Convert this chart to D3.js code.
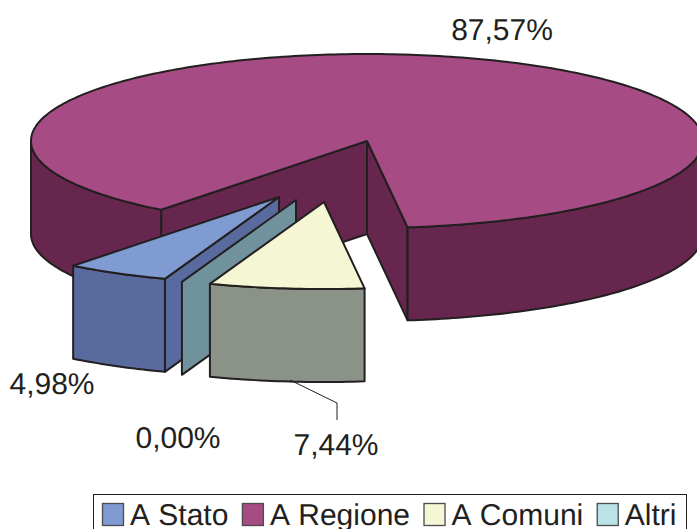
<!DOCTYPE html>
<html>
<head>
<meta charset="utf-8">
<script src="https://cdn.jsdelivr.net/npm/d3@7"></script>
<style>
html,body{margin:0;padding:0;background:#fff;overflow:hidden}
text{font-family:"Liberation Sans",Arial,sans-serif;fill:#231f20;font-size:30px;text-rendering:geometricPrecision;font-kerning:none}
</style>
</head>
<body>
<svg id="c" width="697" height="529"></svg>
<script>
const categories = ["A Stato", "A Regione", "A Comuni", "Altri"];
const values = [4.98, 87.57, 7.44, 0.0];
const valueLabels = ["4,98%", "87,57%", "7,44%", "0,00%"];
const topColors = ["#7f9bd1", "#a64b84", "#f5f6d3", "#bbe3e6"];
const sideColors = ["#596a9e", "#66264e", "#8b9389", "#6f929c"];
const explodeX = [-88, 0, -43, -71];
const explodeY = [56, 0, 61, 59];
const labelX = [52, 502, 336, 178];
const labelY = [394, 40, 455, 448];

const cx = 367, cy = 141, rx = 336, ry = 87, depth = 93;
const ink = "#231f20", sw = 2;
const svg = d3.select("#c");
const rad = d => d * Math.PI / 180;

const arcs = d3.pie().sort(null).value(d => d)
  .startAngle(rad(199.85)).endAngle(rad(199.85) + 2 * Math.PI)(values);

const px = d3.scaleLinear().domain([-1, 1]).range([cx - rx, cx + rx]);
const py = d3.scaleLinear().domain([-1, 1]).range([cy - ry, cy + ry]);
const pt = (a, off, dz) => [px(Math.sin(a)) + off[0], py(-Math.cos(a)) + off[1] + dz];
const apex = (off, dz) => [cx + off[0], cy + off[1] + dz];
const line = d3.line();
const sample = (a0, a1) => {
  const n = Math.max(2, Math.ceil(Math.abs(a1 - a0) / rad(1)));
  return d3.range(n + 1).map(i => a0 + (a1 - a0) * i / n);
};
const poly = (pts, fill) => svg.append("path")
  .attr("d", line(pts) + "Z").attr("fill", fill).attr("stroke", ink)
  .attr("stroke-width", sw).attr("stroke-linejoin", "round");

function outer(a0, a1, off, fill) {
  const s = sample(a0, a1);
  const topEdge = s.map(a => pt(a, off, 0));
  const botEdge = s.slice().reverse().map(a => pt(a, off, depth));
  poly(topEdge.concat(botEdge), fill);
}
function cutFace(a, off, fill) {
  poly([apex(off, 0), pt(a, off, 0), pt(a, off, depth), apex(off, depth)], fill);
}
function topFace(a0, a1, off, fill) {
  poly([apex(off, 0)].concat(sample(a0, a1).map(a => pt(a, off, 0))), fill);
}
const offset = i => [explodeX[i], explodeY[i]];

// main slice (A Regione)
{
  const i = 1, d = arcs[i], o = offset(i);
  const a0 = d.startAngle, a1 = d.endAngle;
  cutFace(a1, o, sideColors[i]);
  cutFace(a0, o, sideColors[i]);
  outer(a0, rad(270), o, sideColors[i]);
  outer(rad(450), a1, o, sideColors[i]);
  topFace(a0, a1, o, topColors[i]);
}
// A Stato
{
  const i = 0, d = arcs[i], o = offset(i);
  cutFace(d.startAngle, o, sideColors[i]);
  outer(d.startAngle, d.endAngle, o, sideColors[i]);
  topFace(d.startAngle, d.endAngle, o, topColors[i]);
}
// Altri: zero-width slice
{
  const i = 3, d = arcs[i], o = offset(i);
  cutFace(d.startAngle, o, sideColors[i]);
}
// A Comuni
{
  const i = 2, d = arcs[i], o = offset(i);
  outer(d.startAngle, d.endAngle, o, sideColors[i]);
  topFace(d.startAngle, d.endAngle, o, topColors[i]);
}

// leader line for A Comuni
svg.append("path")
  .attr("d", line([[290, 380], [337, 403], [337, 420]]))
  .attr("fill", "none").attr("stroke", ink).attr("stroke-width", 1);

// value labels
svg.selectAll("text.v").data(valueLabels).join("text").attr("class", "v")
  .attr("x", (d, i) => labelX[i]).attr("y", (d, i) => labelY[i])
  .attr("text-anchor", "middle").text(d => d);

// legend
svg.append("rect").attr("x", 93.5).attr("y", 494.5)
  .attr("width", 593).attr("height", 40).attr("fill", "#fff")
  .attr("stroke", ink).attr("stroke-width", 1);
let lx = 102.5;
categories.forEach((c, i) => {
  svg.append("rect").attr("x", lx).attr("y", 503.5).attr("width", 21).attr("height", 22)
    .attr("fill", topColors[i]).attr("stroke", "#4a4a4f").attr("stroke-width", 1.3);
  const t = svg.append("text").attr("x", lx + 27.5).attr("y", 525).text(c);
  lx += 27.5 + t.node().getComputedTextLength() + 14;
});
</script>
</body>
</html>
